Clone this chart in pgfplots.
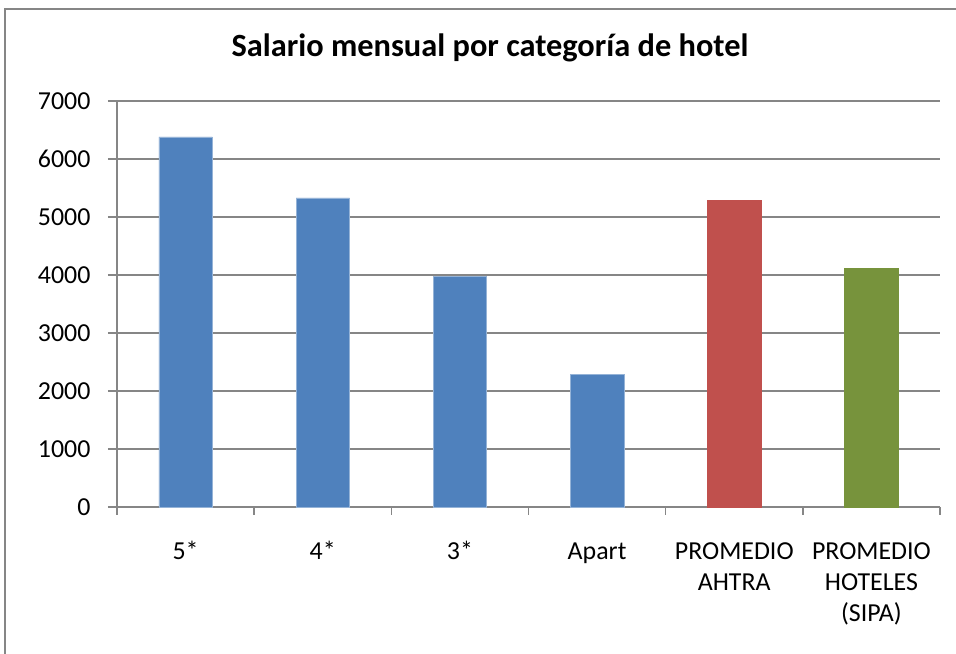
\documentclass[border=0pt]{standalone}
\usepackage{fontspec}
\setmainfont{Carlito}
\usepackage{pgfplots}
\pgfplotsset{compat=1.18}
\definecolor{cblue}{HTML}{4F81BD}
\definecolor{cred}{HTML}{C0504D}
\definecolor{cgreen}{HTML}{77933C}
\definecolor{axgray}{HTML}{868686}
\begin{document}
\begin{tikzpicture}[x=1bp,y=1bp]
\useasboundingbox (0,0) rectangle (956,654);
\draw[axgray, line width=1.5bp] (5,-10) rectangle (970,645);
\node[font=\fontsize{32.5}{37}\selectfont\bfseries] at (490,606) {Salario mensual por categoría de hotel};
\begin{axis}[
  at={(117bp,147bp)}, anchor=south west,
  scale only axis, width=823bp, height=406bp,
  xmin=-0.5, xmax=5.5, ymin=0, ymax=7000,
  ytick={0,1000,...,7000},
  xtick={0,1,2,3,4,5},
  xticklabels={\strut 5*,\strut 4*,\strut 3*,\strut Apart,\strut PROMEDIO\\AHTRA,\strut PROMEDIO\\HOTELES\\(SIPA)},
  xticklabel style={align=center, font=\fontsize{26}{31}\selectfont, anchor=north, inner sep=0pt, yshift=-22bp},
  yticklabel style={font=\fontsize{26}{30}\selectfont, xshift=-14bp},
  /pgf/number format/assume math mode=true,
  /pgf/number format/1000 sep={},
  axis x line=bottom, axis y line=left,
  axis line style={-, draw=axgray, line width=1.5bp},
  major x tick style={draw=none},
  minor xtick={-0.5,0.5,1.5,2.5,3.5,4.5,5.5},
  minor x tick style={draw=axgray, line width=1.5bp},
  minor tick length=8bp,
  y tick style={draw=axgray, line width=1.5bp},
  tick align=outside, major tick length=9bp,
  ymajorgrids, grid style={draw=axgray, line width=1.5bp},
  ybar, bar width=0.39, bar shift=0pt,
  clip=false,
]
\addplot[fill=cblue, draw=cblue!60!white, line width=0.5bp] coordinates {(0,6380) (1,5330) (2,3980) (3,2290)};
\addplot[fill=cred, draw=cred] coordinates {(4,5290)};
\addplot[fill=cgreen, draw=cgreen] coordinates {(5,4120)};
\end{axis}
\end{tikzpicture}
\end{document}
